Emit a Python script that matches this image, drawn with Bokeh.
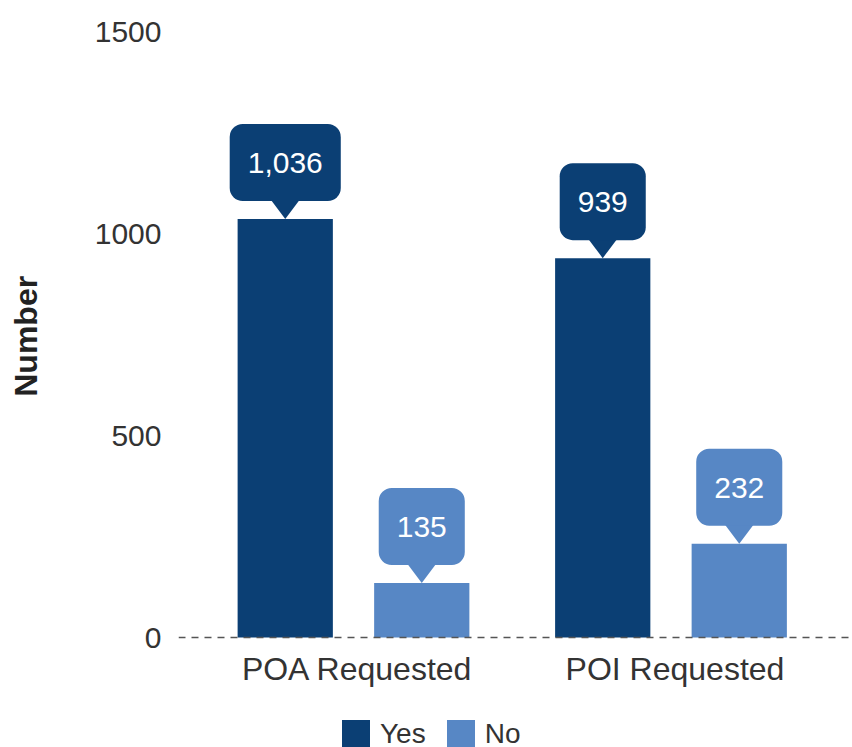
import math
from bokeh.plotting import figure
from bokeh.layouts import row
from bokeh.models import (Range1d, FixedTicker, Span, Legend, LegendItem,
                          ColumnDataSource)
from bokeh.transform import dodge
from bokeh.core.properties import value
from bokeh.embed import file_html
from bokeh.resources import INLINE

categories = ["POA Requested", "POI Requested"]
series = ["Yes", "No"]
yes_values = [1036, 939]
no_values = [135, 232]
colors = ["#0b3f74", "#5787c5"]
y_ticks = [0, 500, 1000, 1500]
y_title = "Number"

FONT = "Liberation Sans"
TOTAL_W, H = 852, 747
LAB_W = 50
W = TOTAL_W - LAB_W
LEFT, TOP = 178 - LAB_W, 31
ZERO_Y = 637                      # screen y of value 0
frame_w = W - LEFT
x_start, x_end = -0.5512, 1.5717
y_top = 1500
px_y = (ZERO_Y - TOP) / y_top
y_start = -(H - ZERO_Y) / px_y
px_x = frame_w / (x_end - x_start)
DODGE = 0.215
BAR_W = 0.3

# ---- small figure holding the rotated y-axis title ----
lab = figure(width=LAB_W, height=H, title=None, x_range=Range1d(0, LAB_W),
             y_range=Range1d(H, 0), output_backend="svg", toolbar_location=None,
             x_axis_location=None, y_axis_location=None, min_border=0)
lab.outline_line_color = None
lab.grid.visible = False
lab.text(x=[25], y=[(TOP + ZERO_Y) / 2 - 16], text=[y_title], angle=math.pi / 2,
         text_align="center", text_baseline="middle", text_color="#222222",
         text_font=value(FONT), text_font_size="32px", text_font_style="bold")

# ---- main chart ----
p = figure(width=W, height=H, x_range=Range1d(x_start, x_end),
           y_range=Range1d(y_start, y_top), output_backend="svg",
           toolbar_location=None, x_axis_location=None,
           min_border_left=LEFT, min_border_right=0,
           min_border_top=TOP, min_border_bottom=0)
p.outline_line_color = None
p.grid.visible = False

xs = list(range(len(categories)))
src = ColumnDataSource(dict(
    x=xs, cat=categories, zero=[0] * len(xs), yes=yes_values, no=no_values,
    yes_lbl=[f"{v:,}" for v in yes_values],
    no_lbl=[f"{v:,}" for v in no_values],
))

r_yes = p.vbar(x=dodge("x", -DODGE, range=p.x_range), top="yes", bottom=0,
               width=BAR_W, source=src, fill_color=colors[0], line_color=None)
r_no = p.vbar(x=dodge("x", DODGE, range=p.x_range), top="no", bottom=0,
              width=BAR_W, source=src, fill_color=colors[1], line_color=None)

p.add_layout(Span(location=0, dimension="width", line_color="#555555",
                  line_dash="7 6", line_width=1.6))

# callout pointers
hw = 15 / px_x
hh = 20 / px_y
ptr_x, ptr_y, ptr_c = [], [], []
for i in xs:
    for off, vals, c in ((-DODGE, yes_values, colors[0]), (DODGE, no_values, colors[1])):
        cx = i + off
        v = vals[i]
        ptr_x.append([cx - hw, cx + hw, cx])
        ptr_y.append([v + hh, v + hh, v])
        ptr_c.append(c)
p.patches(ptr_x, ptr_y, fill_color=ptr_c, line_color=None)

for col, lbl, off, c in (("yes", "yes_lbl", -DODGE, colors[0]), ("no", "no_lbl", DODGE, colors[1])):
    p.text(x=dodge("x", off, range=p.x_range), y=col, text=lbl, source=src,
           text_align="center", text_baseline="bottom", y_offset=-18,
           text_color="white", text_font=value(FONT), text_font_size="30px",
           background_fill_color=c, border_radius=13,
           padding=dict(left=18, right=18, top=29, bottom=28))

# category labels (x axis)
p.text(x="x", y="zero", text="cat", source=src, text_align="center",
       text_baseline="middle", x_offset=4, y_offset=31, text_color="#333333",
       text_font=value(FONT), text_font_size="32px")

# y axis
p.yaxis.ticker = FixedTicker(ticks=y_ticks)
p.yaxis.major_label_standoff = 11
p.yaxis.axis_line_color = None
p.yaxis.major_tick_line_color = None
p.yaxis.minor_tick_line_color = None
p.yaxis.major_label_text_font = FONT
p.yaxis.major_label_text_color = "#333333"
p.yaxis.major_label_text_font_size = "30px"

legend = Legend(items=[LegendItem(label=series[0], renderers=[r_yes]),
                       LegendItem(label=series[1], renderers=[r_no])],
                orientation="horizontal", location=(160, -4),
                label_text_font=FONT, label_text_font_size="28px",
                label_text_color="#333333", glyph_width=35, glyph_height=35,
                label_standoff=7, spacing=17, padding=0, margin=0,
                border_line_color=None, background_fill_alpha=0)
p.add_layout(legend, "center")

open("out.html", "w").write(file_html(row(lab, p), INLINE))
